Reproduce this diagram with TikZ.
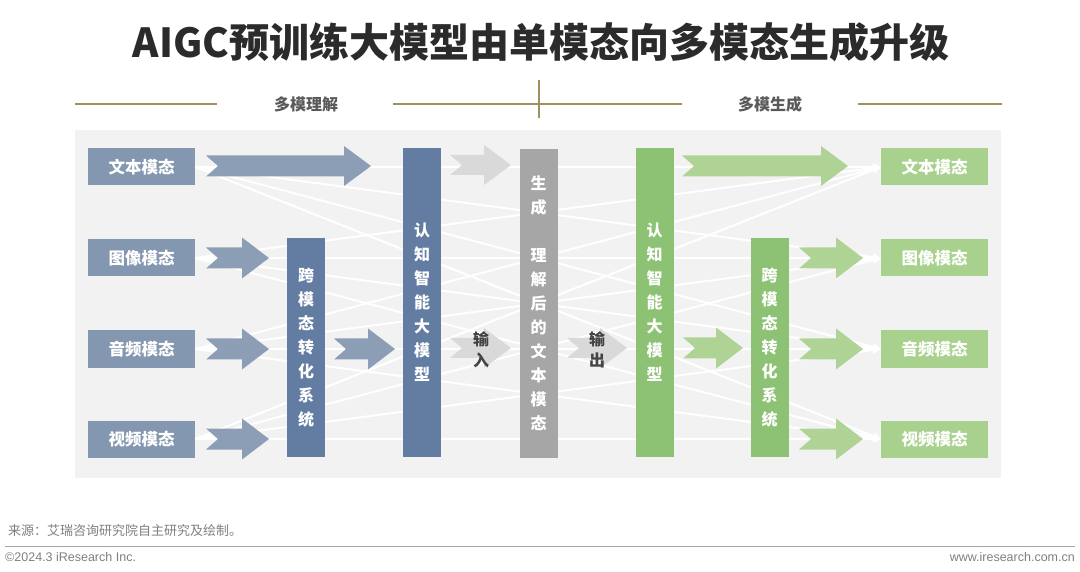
\documentclass[tikz,border=0pt]{standalone}
\usepackage{fontspec}
\newfontfamily\cjk{Noto Sans CJK SC}
\newfontfamily\latn{Liberation Sans}
\usetikzlibrary{arrows.meta}
\definecolor{panelc}{HTML}{F2F2F2}
\definecolor{lbluec}{HTML}{8497B0}
\definecolor{dbluec}{HTML}{637CA1}
\definecolor{midgray}{HTML}{A6A6A6}
\definecolor{lgrayc}{HTML}{D9D9D9}
\definecolor{dgreenc}{HTML}{8DC274}
\definecolor{lgreenc}{HTML}{A9D18E}
\definecolor{olivec}{HTML}{9D925F}
\definecolor{titlec}{HTML}{2B2B2B}
\definecolor{headc}{HTML}{595959}
\definecolor{footc}{HTML}{7F7F7F}
\newcommand\blkarrow[7]{%
  \fill[#1] (#2,{#4-#5}) -- ({#3-#7},{#4-#5}) -- ({#3-#7},{#4-#6}) -- (#3,#4) --
  ({#3-#7},{#4+#6}) -- ({#3-#7},{#4+#5}) -- (#2,{#4+#5}) -- ({#2+12},#4) -- cycle;}
\tikzset{
  modbox/.style={minimum width=107pt, minimum height=37pt, inner sep=0pt, text=white,
    font=\cjk\bfseries\fontsize{16.5}{16.5}\selectfont},
  lbox/.style={modbox, fill=lbluec},
  rbox/.style={modbox, fill=lgreenc},
  barbox/.style={minimum width=38pt, inner sep=0pt, text=white, align=center,
    font=\cjk\bfseries\fontsize{16}{24}\selectfont},
  wline/.style={white, line width=2pt, -{Stealth[length=8pt,width=8pt]}},
  blue arrow/.style={fill=lbluec, fill opacity=0.92},
  gray arrow/.style={fill=lgrayc},
  green arrow/.style={fill=lgreenc, fill opacity=0.92},
  hline/.style={olivec, line width=2pt},
  headtxt/.style={text=headc, font=\cjk\bfseries\fontsize{16}{16}\selectfont},
  arrtxt/.style={text=headc!75!black, align=center, font=\cjk\bfseries\fontsize{16}{21}\selectfont}
}
\begin{document}
\begin{tikzpicture}[x=1pt,y=-1pt]
\useasboundingbox (0,0) rectangle (1080,572);
% title
\node[text=titlec, font=\cjk\bfseries\fontsize{40}{40}\selectfont] (title) at (541,42) {AIGC预训练大模型由单模态向多模态生成升级};
% header
\draw[hline] (75,104) -- (217,104);
\draw[hline] (393,104) -- (682,104);
\draw[hline] (539,80) -- (539,118);
\draw[hline] (858,104) -- (1002,104);
\node[headtxt] (h1) at (306,104) {多模理解};
\node[headtxt] (h2) at (770,104) {多模生成};
% panel
\fill[panelc] (75,130) rectangle (1001,478);
% boxes
\node[lbox] (L1) at (141.5,167) {文本模态};
\node[lbox] (L2) at (141.5,258) {图像模态};
\node[lbox] (L3) at (141.5,349) {音频模态};
\node[lbox] (L4) at (141.5,439) {视频模态};
\node[rbox] (R1) at (934.5,167) {文本模态};
\node[rbox] (R2) at (934.5,258) {图像模态};
\node[rbox] (R3) at (934.5,349) {音频模态};
\node[rbox] (R4) at (934.5,439) {视频模态};
% white lines
\foreach \i in {1,2,3,4}{
  \foreach \j in {1,2,3,4}{
    \draw[wline] (L\i.east) -- (R\j.west);
  }
}
% arrows
\blkarrow{blue arrow}{206}{371}{166}{10.5}{20}{27}
\blkarrow{blue arrow}{206}{269}{258}{10.5}{20.5}{27}
\blkarrow{blue arrow}{206}{269}{349}{10.5}{20.5}{27}
\blkarrow{blue arrow}{206}{269}{439}{10.5}{20.5}{27}
\blkarrow{blue arrow}{334}{395}{349}{10.5}{20.5}{27}
\blkarrow{gray arrow}{450}{511}{165}{10}{20}{27}
\blkarrow{gray arrow}{450}{511}{348}{10}{20}{27}
\blkarrow{gray arrow}{567}{627}{348}{10}{20}{27}
\blkarrow{green arrow}{682}{848}{166}{10.5}{20}{27}
\blkarrow{green arrow}{683}{743}{348}{10.5}{20.5}{27}
\blkarrow{green arrow}{799}{863}{258}{10.5}{20.5}{27}
\blkarrow{green arrow}{799}{863}{349}{10.5}{20.5}{27}
\blkarrow{green arrow}{799}{863}{439}{10.5}{20.5}{27}
% bars
\node[barbox, fill=dbluec, minimum height=219pt] (CB1) at (306,347.5) {跨\\模\\态\\转\\化\\系\\统};
\node[barbox, fill=dbluec, minimum height=309pt] (CM1) at (422,302.5) {认\\知\\智\\能\\大\\模\\型};
\node[barbox, fill=midgray, minimum height=309pt] (MID) at (538.5,303.5) {生\\成\\~\\理\\解\\后\\的\\文\\本\\模\\态};
\node[barbox, fill=dgreenc, minimum height=309pt] (CM2) at (654.5,302.5) {认\\知\\智\\能\\大\\模\\型};
\node[barbox, fill=dgreenc, minimum height=219pt] (CB2) at (769.5,347.5) {跨\\模\\态\\转\\化\\系\\统};
% arrow labels
\node[arrtxt] (in) at (481,349.5) {输\\入};
\node[arrtxt] (out) at (597,349.5) {输\\出};
% footer
\node[anchor=west, text=footc, font=\cjk\fontsize{13}{13}\selectfont, inner sep=0pt] (src) at (8,531) {来源：艾瑞咨询研究院自主研究及绘制。};
\draw[midgray, line width=1pt] (5,546) -- (1075,546);
\node[anchor=west, text=footc, font=\latn\fontsize{12.5}{12.5}\selectfont, inner sep=0pt] (copy) at (5,557) {©2024.3 iResearch Inc.};
\node[anchor=east, text=footc, font=\latn\fontsize{12.5}{12.5}\selectfont, inner sep=0pt] (web) at (1075,557) {www.iresearch.com.cn};
\end{tikzpicture}
\end{document}
